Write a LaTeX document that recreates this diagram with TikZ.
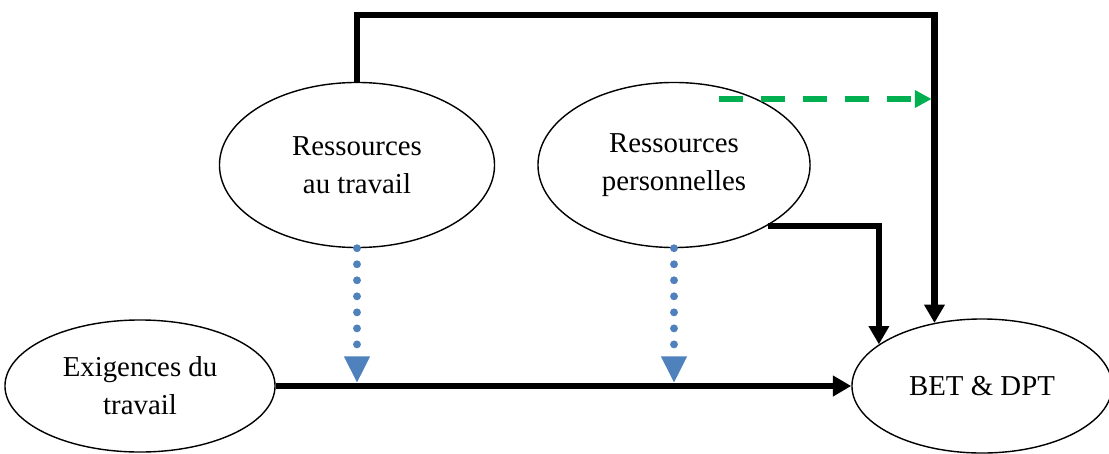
\documentclass[tikz,border=0pt]{standalone}
\usepackage{fontspec}
\setmainfont{Liberation Serif}
\usetikzlibrary{shapes.geometric,arrows.meta}
\definecolor{bleu}{RGB}{79,129,189}
\definecolor{vert}{RGB}{0,176,80}

\begin{document}
\begin{tikzpicture}[x=0.025cm,y=-0.025cm,
		base node/.style={ellipse,draw,line width=1pt,inner sep=0pt,align=center,font=\fontsize{20.5}{27}\selectfont},
		fleche/.style={line width=4.4pt,-{Triangle[length=13pt,width=14pt]}},
		pointille/.style={draw=bleu,line width=5.6pt,line cap=round,dash pattern=on 0pt off 11.4pt,-{Triangle[length=19pt,width=17pt]},shorten >=2pt},
		tirets/.style={draw=vert,line width=3.6pt,dash pattern=on 17pt off 12.8pt,-{Triangle[length=12pt,width=12pt]},shorten >=2pt}]
		\useasboundingbox (0,0) rectangle (1109,453);
		% variables du modele
		\node[base node, minimum width=6.875cm, minimum height=4.125cm] (rt) at (357,165) {Ressources\\au travail};
		\node[base node, minimum width=6.8cm, minimum height=4.125cm] (rp) at (674,165) {Ressources\\personnelles};
		\node[base node, minimum width=6.75cm, minimum height=3.3cm] (ex) at (140,386) {Exigences du\\travail};
		\node[base node, minimum width=6.5cm, minimum height=3.35cm] (bet) at (982,386) {BET \& DPT};
		\coordinate (haut) at (0,15);
		\coordinate (gs) at (719,99);
		% liens
		\draw[fleche] (rt.north) |- (bet.127 |- haut) -- (bet.127);
		\draw[fleche] (rp.-33) -| (bet.158);
		\draw[fleche] (ex.east) -- (bet.west);
		\draw[tirets] (gs) -- (bet.127 |- gs);
		\draw[pointille] (rt.south) -- (rt.south |- ex.east);
		\draw[pointille] (rp.south) -- (rp.south |- ex.east);
\end{tikzpicture}
\end{document}
